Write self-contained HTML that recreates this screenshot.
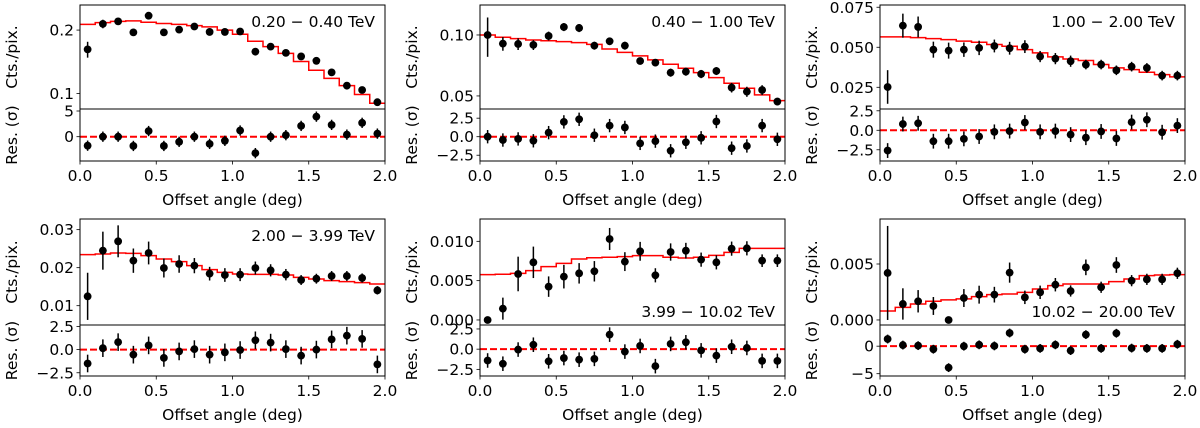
<!DOCTYPE html>
<html><head><meta charset="utf-8">
<style>
html,body{margin:0;padding:0;background:#fff;}
svg{display:block;font-family:"DejaVu Sans","Liberation Sans",sans-serif;}
</style></head>
<body>
<svg id="fig" width="1200" height="428" viewBox="0 0 1200 428" xmlns="http://www.w3.org/2000/svg"></svg>
<script>
const xCenters=[0.05,0.15,0.25,0.35,0.45,0.55,0.65,0.75,0.85,0.95,1.05,1.15,1.25,1.35,1.45,1.55,1.65,1.75,1.85,1.95];
const xEdges=[0,0.1,0.2,0.3,0.4,0.5,0.6,0.7,0.8,0.9,1.0,1.1,1.2,1.3,1.4,1.5,1.6,1.7,1.8,1.9,2.0];
const xTicks=[0,0.5,1.0,1.5,2.0];
const xTickLabels=["0.0","0.5","1.0","1.5","2.0"];
const energyLabels=["0.20 − 0.40 TeV","0.40 − 1.00 TeV","1.00 − 2.00 TeV","2.00 − 3.99 TeV","3.99 − 10.02 TeV","10.02 − 20.00 TeV"];

const counts1=[0.162,0.214,0.220,0.195,0.234,0.195,0.201,0.208,0.196,0.196,0.197,0.158,0.167,0.156,0.150,0.143,0.126,0.109,0.104,0.091];
const countErr1=[0.014,0.010,0.008,0.006,0.006,0.005,0.005,0.004,0.004,0.004,0.004,0.003,0.003,0.003,0.003,0.003,0.003,0.003,0.002,0.002];
const model1=[0.213,0.217,0.220,0.221,0.218,0.215,0.213,0.210,0.207,0.200,0.191,0.177,0.167,0.155,0.142,0.129,0.118,0.109,0.099,0.090];
const resid1=[-1.75,0,0,-1.8,1.1,-1.8,-1.0,0,-1.4,-0.8,1.2,-3.2,0,0.3,2.1,3.9,2.3,0.4,2.7,0.6];

const counts2=[0.100,0.0906,0.0903,0.0893,0.0989,0.1095,0.1083,0.0886,0.0931,0.0886,0.0744,0.0730,0.0652,0.0659,0.0642,0.0664,0.0550,0.0525,0.0535,0.0469];
const countErr2=[0.022,0.007,0.006,0.005,0.005,0.005,0.005,0.004,0.004,0.004,0.003,0.003,0.003,0.003,0.003,0.003,0.003,0.003,0.003,0.002];
const model2=[0.100,0.0974,0.0959,0.0945,0.0937,0.0927,0.0917,0.0899,0.0853,0.0821,0.0788,0.0753,0.0717,0.0685,0.0652,0.0616,0.0578,0.0546,0.0506,0.0474];
const resid2=[0,-0.45,-0.3,-0.55,0.55,2.0,2.35,0.2,1.5,1.25,-0.9,-0.6,-1.9,-0.75,-0.15,2.05,-1.55,-1.25,1.5,-0.35];

const counts3=[0.0252,0.0635,0.0627,0.0485,0.0479,0.0485,0.0496,0.0508,0.0494,0.0504,0.0442,0.0429,0.0413,0.0392,0.0392,0.0356,0.0379,0.0371,0.0323,0.0323];
const countErr3=[0.0105,0.0075,0.0065,0.005,0.005,0.0045,0.0045,0.004,0.004,0.004,0.0035,0.0035,0.0035,0.003,0.003,0.003,0.003,0.003,0.003,0.003];
const model3=[0.0565,0.0565,0.0560,0.0554,0.0548,0.0538,0.0531,0.0517,0.0506,0.0485,0.0465,0.0440,0.0427,0.0417,0.0392,0.0371,0.0360,0.0344,0.0329,0.0315];
const resid3=[-2.6,0.8,0.9,-1.4,-1.4,-1.1,-0.8,-0.2,-0.1,1.0,-0.2,-0.1,-0.55,-0.95,-0.15,-1.05,1.05,1.35,-0.25,0.6];

const counts4=[0.01246,0.02447,0.02693,0.02184,0.02386,0.01991,0.02096,0.02053,0.01842,0.01807,0.01816,0.01991,0.0193,0.01816,0.01675,0.0171,0.01781,0.01781,0.01728,0.01404];
const countErr4=[0.0062,0.005,0.0042,0.0032,0.003,0.0025,0.0023,0.002,0.0018,0.0018,0.0017,0.0017,0.0016,0.0015,0.0013,0.0013,0.0013,0.0013,0.0012,0.0011];
const model4=[0.02342,0.0236,0.02386,0.02377,0.02316,0.02228,0.02158,0.02053,0.01947,0.01877,0.01833,0.01825,0.01825,0.01807,0.01746,0.01702,0.01658,0.01632,0.01605,0.0157];
const resid4=[-1.5,0.15,0.8,-0.55,0.45,-0.9,-0.2,0.05,-0.55,-0.3,-0.05,1.0,0.75,0.05,-0.65,0,1.1,1.5,1.15,-1.6];

const counts5=[0,0.00144,0.00585,0.00733,0.00424,0.00551,0.00593,0.00619,0.0103,0.00742,0.00873,0.00568,0.00864,0.00881,0.00767,0.00733,0.00907,0.00911,0.00754,0.00754];
const countErr5=[0.0002,0.0014,0.0022,0.002,0.0013,0.0015,0.0013,0.0013,0.0014,0.0012,0.0012,0.0009,0.0011,0.001,0.0009,0.0009,0.0009,0.0009,0.0008,0.0008];
const model5=[0.00576,0.00581,0.00593,0.00627,0.00678,0.0072,0.00775,0.00792,0.00797,0.00805,0.00818,0.00818,0.00797,0.00788,0.00797,0.00822,0.0086,0.00911,0.00911,0.00911];
const resid5=[-1.4,-1.8,-0.05,0.55,-1.5,-1.1,-1.3,-1.2,1.8,-0.3,0.4,-2.1,0.65,0.85,-0.15,-0.8,0.3,0.15,-1.45,-1.45];

const counts6=[0.0042,0.00143,0.00167,0.00125,0,0.00196,0.00226,0.00226,0.00423,0.00202,0.00247,0.00315,0.00259,0.0047,0.00292,0.00491,0.00351,0.00363,0.00363,0.00417];
const countErr6=[0.0042,0.0014,0.001,0.0008,0.0001,0.0008,0.0008,0.0007,0.0009,0.0006,0.0006,0.0006,0.0005,0.0007,0.0005,0.0007,0.0005,0.0005,0.0005,0.0005];
const model6=[0.0008,0.00113,0.00143,0.00167,0.00179,0.00188,0.00208,0.00226,0.00232,0.00247,0.00277,0.00307,0.00321,0.00321,0.00321,0.00342,0.00366,0.00396,0.00402,0.00405];
const resid6=[1.3,0.2,0.1,-0.55,-3.9,0,0.25,0.05,2.4,-0.55,-0.4,0.25,-0.8,2.1,-0.4,2.35,-0.35,-0.4,-0.4,0.35];

const topTicks1=[0.1,0.2]; const topTickLabels1=["0.1","0.2"];
const topTicks2=[0.05,0.10]; const topTickLabels2=["0.05","0.10"];
const topTicks3=[0.025,0.05,0.075]; const topTickLabels3=["0.025","0.050","0.075"];
const topTicks4=[0.01,0.02,0.03]; const topTickLabels4=["0.01","0.02","0.03"];
const topTicks5=[0,0.005,0.010]; const topTickLabels5=["0.000","0.005","0.010"];
const topTicks6=[0,0.005]; const topTickLabels6=["0.000","0.005"];
const resTicksA=[0,5]; const resTickLabelsA=["0","5"];
const resTicksB=[-2.5,0,2.5]; const resTickLabelsB=["−2.5","0.0","2.5"];
const resTicksC=[-5,0]; const resTickLabelsC=["−5","0"];

const NS="http://www.w3.org/2000/svg";
const svg=document.getElementById('fig');
function mk(tag,attrs,parent){const e=document.createElementNS(NS,tag);for(const k in attrs)e.setAttribute(k,attrs[k]);(parent||svg).appendChild(e);return e;}

const panels=[
 {x0:80,top:5,mid:109,bot:161,log:true,ymin:0.0845,ymax:0.263,rmin:-4.73,rmax:5.39,c:counts1,e:countErr1,m:model1,r:resid1,rerr:1.0,tt:topTicks1,tl:topTickLabels1,rt:resTicksA,rl:resTickLabelsA,lab:0,labTop:true},
 {x0:480,top:5,mid:109,bot:161,log:true,ymin:0.0431,ymax:0.1406,rmin:-3.28,rmax:3.74,c:counts2,e:countErr2,m:model2,r:resid2,rerr:0.9,tt:topTicks2,tl:topTickLabels2,rt:resTicksB,rl:resTickLabelsB,lab:1,labTop:true},
 {x0:880,top:5,mid:109,bot:161,log:false,ymin:0.01144,ymax:0.0764,rmin:-3.94,rmax:2.73,c:counts3,e:countErr3,m:model3,r:resid3,rerr:0.95,tt:topTicks3,tl:topTickLabels3,rt:resTicksB,rl:resTickLabelsB,lab:2,labTop:true},
 {x0:80,top:219,mid:325,bot:376,log:false,ymin:0.00492,ymax:0.0328,rmin:-2.85,rmax:2.65,c:counts4,e:countErr4,m:model4,r:resid4,rerr:0.95,tt:topTicks4,tl:topTickLabels4,rt:resTicksB,rl:resTickLabelsB,lab:3,labTop:true},
 {x0:480,top:219,mid:325,bot:376,log:false,ymin:-0.00064,ymax:0.01284,rmin:-3.32,rmax:2.99,c:counts5,e:countErr5,m:model5,r:resid5,rerr:0.9,tt:topTicks5,tl:topTickLabels5,rt:resTicksB,rl:resTickLabelsB,lab:4,labTop:false},
 {x0:880,top:219,mid:325,bot:376,log:false,ymin:-0.00045,ymax:0.00902,rmin:-5.42,rmax:3.85,c:counts6,e:countErr6,m:model6,r:resid6,rerr:0.8,tt:topTicks6,tl:topTickLabels6,rt:resTicksC,rl:resTickLabelsC,lab:5,labTop:false}
];
const W=305;
const FS=15.5;

panels.forEach((p,pi)=>{
  const g=mk('g',{});
  
  
  const xs=v=>p.x0+v/2.0*W;
  const ys=v=>{ if(p.log){const lo=Math.log10(p.ymin),hi=Math.log10(Math.max(v,1e-9));return p.mid-(hi-lo)/(Math.log10(p.ymax)-lo)*(p.mid-p.top);} return p.mid-(v-p.ymin)/(p.ymax-p.ymin)*(p.mid-p.top);};
  const rs=v=>p.bot-(v-p.rmin)/(p.rmax-p.rmin)*(p.bot-p.mid);
  const clipId='clip'+pi;
  const cp=mk('clipPath',{id:clipId},g); mk('rect',{x:p.x0,y:p.top,width:W,height:p.mid-p.top},cp);
  const cp2=mk('clipPath',{id:clipId+'r'},g); mk('rect',{x:p.x0,y:p.mid,width:W,height:p.bot-p.mid},cp2);
  let d='';
  p.m.forEach((v,i)=>{const y=ys(v);d+=(i===0?'M':'L')+xs(xEdges[i])+','+y+'L'+xs(xEdges[i+1])+','+y;});
  const mp=mk('path',{d:d,fill:'none',stroke:'#ff0000','stroke-width':1.5,'clip-path':'url(#'+clipId+')'},g);
  
  
  const zl=mk('line',{x1:p.x0,x2:p.x0+W,y1:rs(0),y2:rs(0),stroke:'#ff0000','stroke-width':2,'stroke-dasharray':'7,3'},g);
  
  
  p.c.forEach((v,i)=>{
    const x=xs(xCenters[i]);
    const eb=mk('line',{x1:x,x2:x,y1:ys(v+p.e[i]),y2:ys(Math.max(v-p.e[i],p.log?p.ymin:-1)),stroke:'#000','stroke-width':1.5,'clip-path':'url(#'+clipId+')'},g);
    
    
    const pt=mk('circle',{cx:x,cy:ys(v),r:3.9,fill:'#000','clip-path':'url(#'+clipId+')'},g);
    
    
  });
  p.r.forEach((v,i)=>{
    const x=xs(xCenters[i]);
    const eb=mk('line',{x1:x,x2:x,y1:rs(v+p.rerr),y2:rs(v-p.rerr),stroke:'#000','stroke-width':1.5,'clip-path':'url(#'+clipId+'r)'},g);
    
    
    const pt=mk('circle',{cx:x,cy:rs(v),r:3.9,fill:'#000','clip-path':'url(#'+clipId+'r)'},g);
    
    
  });
  const f1=mk('rect',{x:p.x0,y:p.top,width:W,height:p.mid-p.top,fill:'none',stroke:'#000','stroke-width':1},g);
  
  
  const f2=mk('rect',{x:p.x0,y:p.mid,width:W,height:p.bot-p.mid,fill:'none',stroke:'#000','stroke-width':1},g);
  
  
  p.tt.forEach((v,i)=>{
    const y=ys(v);
    mk('line',{x1:p.x0-3.5,x2:p.x0,y1:y,y2:y,stroke:'#000','stroke-width':0.8},g);
    const t=mk('text',{x:p.x0-6,y:y+5.5,'text-anchor':'end','font-size':FS},g);
    t.textContent=p.tl[i];
    
    
  });
  p.rt.forEach((v,i)=>{
    const y=rs(v);
    mk('line',{x1:p.x0-3.5,x2:p.x0,y1:y,y2:y,stroke:'#000','stroke-width':0.8},g);
    const t=mk('text',{x:p.x0-6,y:y+5.5,'text-anchor':'end','font-size':FS},g);
    t.textContent=p.rl[i];
    
    
  });
  xTicks.forEach((v,i)=>{
    const x=xs(v);
    mk('line',{x1:x,x2:x,y1:p.bot,y2:p.bot+3.5,stroke:'#000','stroke-width':0.8},g);
    const t=mk('text',{x:x,y:p.bot+20,'text-anchor':'middle','font-size':FS},g);
    t.textContent=xTickLabels[i];
    
    
  });
  const xl=mk('text',{x:p.x0+W/2,y:p.bot+44,'text-anchor':'middle','font-size':FS},g);
  xl.textContent='Offset angle (deg)';
  
  
  const yc=(p.top+p.mid)/2, rc=(p.mid+p.bot)/2, lx=p.x0-63;
  const yl=mk('text',{x:lx,y:yc,'text-anchor':'middle','font-size':FS,transform:'rotate(-90 '+lx+' '+yc+')'},g);
  yl.textContent='Cts./pix.';
  
  
  const rl=mk('text',{x:lx,y:rc,'text-anchor':'middle','font-size':FS,transform:'rotate(-90 '+lx+' '+rc+')'},g);
  rl.textContent='Res. (σ)';
  
  
  const et=mk('text',{x:p.x0+W-10,y:p.labTop?p.top+22:p.mid-8,'text-anchor':'end','font-size':FS},g);
  et.textContent=energyLabels[p.lab];
  
  
});
</script>
</body></html>
